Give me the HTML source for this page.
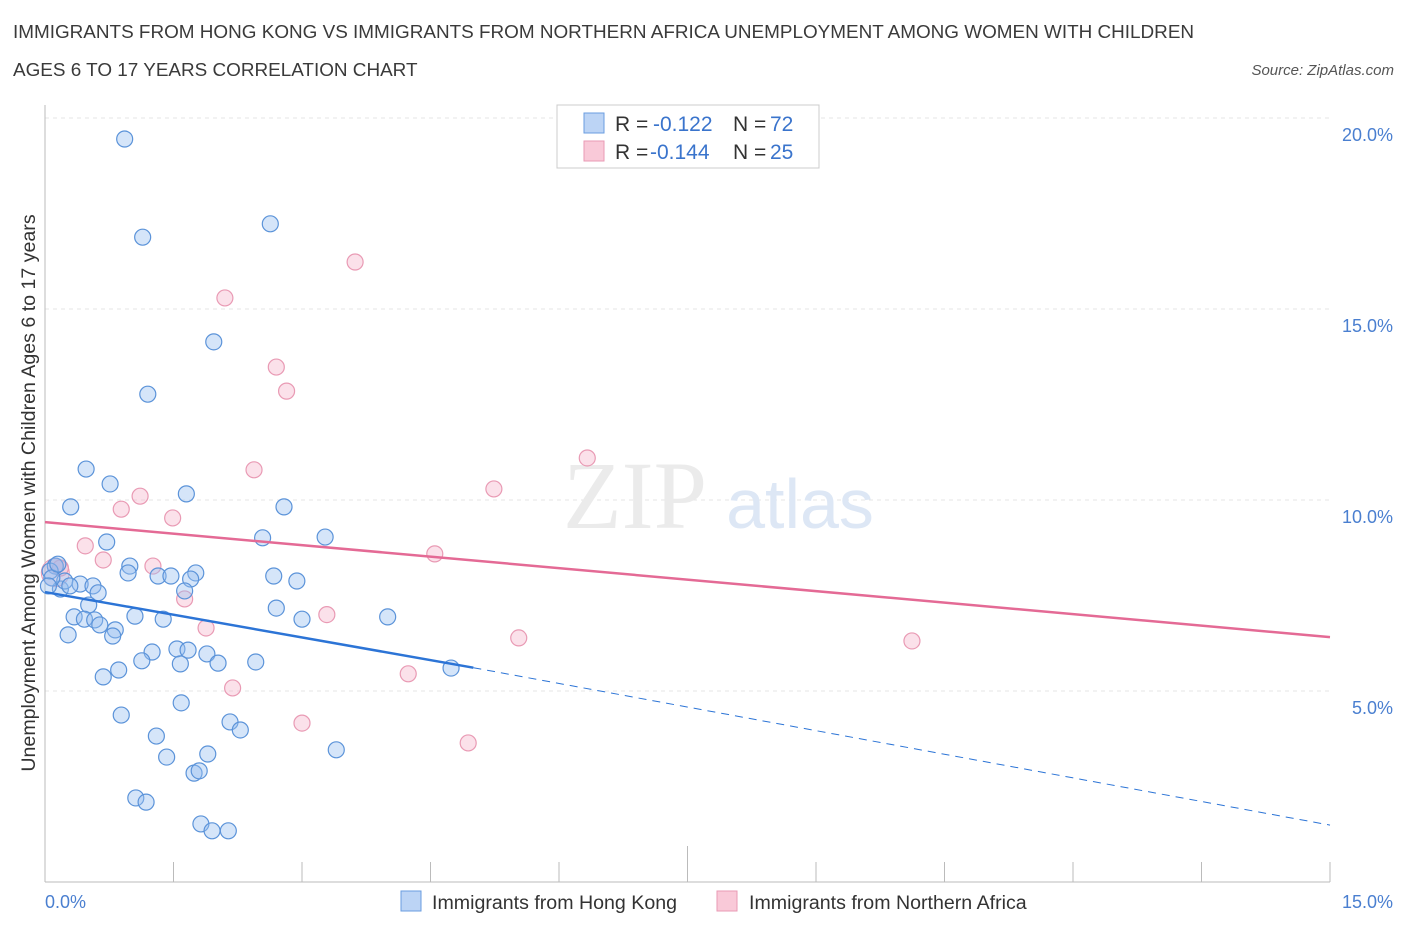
<!DOCTYPE html>
<html><head><meta charset="utf-8"><style>
body{margin:0;background:#fff;font-family:"Liberation Sans",sans-serif;}
#wrap{position:relative;width:1406px;height:930px;overflow:hidden}
.t{position:absolute;color:#333;font-size:18px}
</style></head><body>
<div id="wrap">
<div class="t" style="left:13px;top:14px;line-height:38px;color:#3a3a3a;font-size:18.9px">IMMIGRANTS FROM HONG KONG VS IMMIGRANTS FROM NORTHERN AFRICA UNEMPLOYMENT AMONG WOMEN WITH CHILDREN<br>AGES 6 TO 17 YEARS CORRELATION CHART</div>
<div class="t" style="right:12px;top:62px;font-size:15px;font-style:italic;color:#555">Source: ZipAtlas.com</div>
<svg id="svg" width="1406" height="930" style="position:absolute;left:0;top:0"></svg>
</div>
<script>
const xTicksVal=[0,1.5,3,4.5,6,7.5,9,10.5,12,13.5,15];
const yTicksVal=[5,10,15,20];
const yTickLabels=["5.0%","10.0%","15.0%","20.0%"];
const xTickLabels=["0.0%","15.0%"];
const hkX=[0.93,1.14,2.63,1.97,1.2,0.48,0.76,0.3,1.65,2.79,2.54,3.27,0.72,0.99,0.97,1.32,1.47,1.76,1.7,2.67,2.94,1.63,0.12,0.06,0.18,0.23,0.41,0.56,0.62,0.51,1.05,1.38,2.7,3.0,4.0,0.34,0.46,0.58,0.64,0.82,0.79,0.27,1.25,1.54,1.67,1.89,2.02,2.46,1.58,1.13,0.86,0.68,4.74,1.59,0.89,2.16,2.28,1.3,1.9,1.42,3.4,1.74,1.8,1.06,1.18,1.82,1.95,2.14,0.08,0.15,0.04,0.29];
const hkY=[19.45,16.88,17.23,14.14,12.77,10.81,10.42,9.82,10.16,9.82,9.01,9.03,8.9,8.27,8.09,8.01,8.01,8.09,7.93,8.01,7.88,7.62,8.27,8.14,7.67,7.88,7.8,7.75,7.57,7.25,6.96,6.88,7.17,6.88,6.94,6.94,6.88,6.86,6.73,6.6,6.44,6.47,6.02,6.1,6.07,5.97,5.73,5.76,5.71,5.79,5.55,5.37,5.6,4.69,4.37,4.19,3.98,3.82,3.35,3.27,3.46,2.85,2.91,2.20,2.09,1.52,1.34,1.34,7.96,8.32,7.75,7.75];
const naX=[3.62,2.1,2.7,2.82,6.33,2.44,5.24,1.11,0.89,1.49,4.55,0.47,0.68,1.26,1.63,3.29,1.88,5.53,10.12,2.19,4.24,3.0,4.94,0.12,0.18];
const naY=[16.23,15.29,13.48,12.85,11.1,10.79,10.29,10.1,9.76,9.53,8.59,8.8,8.43,8.27,7.41,7.0,6.65,6.39,6.31,5.08,5.45,4.16,3.64,8.27,8.22];
const hkTrend=[7.59,5.61,1.49];
const hkTrendX=[0,5,15];
const naTrend=[9.42,6.41];
const naTrendX=[0,15];
const X=v=>45+v/15*1285, Y=v=>882-v/5*191;
const svg=document.getElementById('svg');const NS='http://www.w3.org/2000/svg';
function mk(tag,a,name,txt){const e=document.createElementNS(NS,tag);for(const k in a)e.setAttribute(k,a[k]);


if(txt!==undefined)e.textContent=txt;svg.appendChild(e);return e;}
yTicksVal.forEach((v,i)=>{mk('line',{x1:45,x2:1330,y1:Y(v),y2:Y(v),stroke:'#e6e6e6','stroke-dasharray':'4 4'},'y-gridline');
mk('text',{x:1393,y:Y(v)+23,'text-anchor':'end','font-size':18,fill:'#4a7fd0','font-family':'Liberation Sans'},'y-tick-label',yTickLabels[i]);});
mk('line',{x1:45,x2:45,y1:105,y2:882,stroke:'#bbb'},'y-axis');
mk('line',{x1:45,x2:1330,y1:882,y2:882,stroke:'#bbb'},'x-axis');
xTicksVal.forEach((v,i)=>mk('line',{x1:X(v),x2:X(v),y1:i==5?846:862,y2:882,stroke:'#bbb'},'x-tick'));
mk('text',{x:45,y:908,'font-size':18,fill:'#4a7fd0','font-family':'Liberation Sans'},'x-tick-label',xTickLabels[0]);
mk('text',{x:1393,y:908,'text-anchor':'end','font-size':18,fill:'#4a7fd0','font-family':'Liberation Sans'},'x-tick-label',xTickLabels[1]);
mk('text',{x:35,y:493,'text-anchor':'middle','font-size':19.6,fill:'#333',transform:'rotate(-90 35 493)','font-family':'Liberation Sans'},'y-axis-title','Unemployment Among Women with Children Ages 6 to 17 years');
mk('text',{x:635,y:528,'text-anchor':'middle','font-size':96,fill:'#ebebeb','font-family':'Liberation Serif'},'watermark-zip','ZIP');
mk('text',{x:800,y:528,'text-anchor':'middle','font-size':70,fill:'#dde7f5','font-family':'Liberation Sans'},'watermark-atlas','atlas');
mk('circle',{cx:X(0.12),cy:Y(8.1),r:14,fill:'rgba(244,170,195,0.3)',stroke:'#e99ab4'},'big-point');
naX.forEach((x,i)=>mk('circle',{cx:X(x),cy:Y(naY[i]),r:8,fill:'rgba(244,170,195,0.35)',stroke:'#e99ab4','stroke-width':1.2},'na-point'));
hkX.forEach((x,i)=>mk('circle',{cx:X(x),cy:Y(hkY[i]),r:8,fill:'rgba(150,190,240,0.4)',stroke:'#5b93d9','stroke-width':1.2},'hk-point'));
mk('line',{x1:X(hkTrendX[0]),y1:Y(hkTrend[0]),x2:X(hkTrendX[1]),y2:Y(hkTrend[1]),stroke:'#2c74d6','stroke-width':2.5},'hk-trend-line');
mk('line',{x1:X(hkTrendX[1]),y1:Y(hkTrend[1]),x2:X(hkTrendX[2]),y2:Y(hkTrend[2]),stroke:'#2c74d6','stroke-width':1,'stroke-dasharray':'8 6'},'hk-trend-dashed');
mk('line',{x1:X(naTrendX[0]),y1:Y(naTrend[0]),x2:X(naTrendX[1]),y2:Y(naTrend[1]),stroke:'#e46a95','stroke-width':2.5},'na-trend-line');
mk('rect',{x:557,y:105,width:262,height:63,fill:'#fff',stroke:'#ccc'},'stats-legend');
mk('rect',{x:584,y:113,width:20,height:20,fill:'#bcd4f5',stroke:'#6a9de0'},'hk-swatch');
mk('rect',{x:584,y:141,width:20,height:20,fill:'#f9c9d8',stroke:'#e99ab4'},'na-swatch');
const lt=(x,y,s,c,n)=>mk('text',{x:x,y:y,'font-size':21,fill:c,'font-family':'Liberation Sans'},n,s);
lt(615,131,'R =','#333','r-label');lt(653,131,'-0.122','#3a74cc','hk-r');lt(733,131,'N =','#333','n-label');lt(770,131,'72','#3a74cc','hk-n');
lt(615,159,'R =','#333','r-label');lt(650,159,'-0.144','#3a74cc','na-r');lt(733,159,'N =','#333','n-label');lt(770,159,'25','#3a74cc','na-n');
mk('rect',{x:401,y:891,width:20,height:20,fill:'#bcd4f5',stroke:'#6a9de0'},'legend-hk-swatch');
mk('text',{x:432,y:909,'font-size':19.6,fill:'#333','font-family':'Liberation Sans'},'legend-hk','Immigrants from Hong Kong');
mk('rect',{x:717,y:891,width:20,height:20,fill:'#f9c9d8',stroke:'#e99ab4'},'legend-na-swatch');
mk('text',{x:749,y:909,'font-size':19.6,fill:'#333','font-family':'Liberation Sans'},'legend-na','Immigrants from Northern Africa');
</script>
</body></html>
